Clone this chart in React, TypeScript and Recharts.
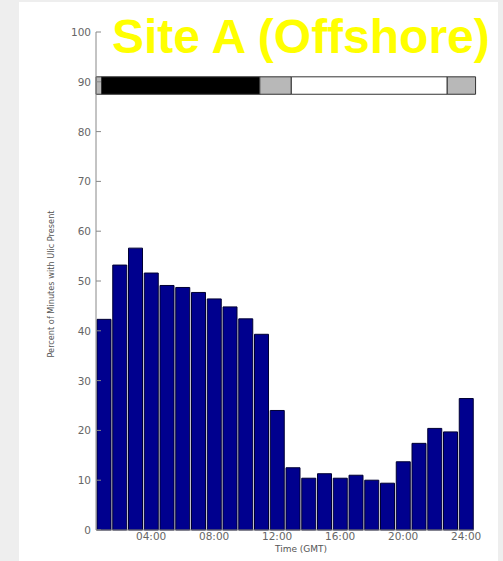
import React from 'react';
import { BarChart, Bar, XAxis, YAxis, ReferenceArea } from 'recharts';

// hour of day (GMT) each bar belongs to
const hours = [1, 2, 3, 4, 5, 6, 7, 8, 9, 10, 11, 12, 13, 14, 15, 16, 17, 18, 19, 20, 21, 22, 23, 24];
const percentPresent = [
  42.3, 53.2, 56.6, 51.6, 49.1, 48.7, 47.7, 46.4, 44.8, 42.4, 39.3, 24.0,
  12.5, 10.4, 11.3, 10.4, 11.0, 10.0, 9.4, 13.7, 17.4, 20.4, 19.7, 26.4,
];
const hourTicks = [4, 8, 12, 16, 20, 24];
const percentTicks = [0, 10, 20, 30, 40, 50, 60, 70, 80, 90, 100];

// light conditions strip along the top
const phaseStart = [0.5, 0.85, 10.9, 12.9, 22.8];
const phaseEnd = [0.85, 10.9, 12.9, 22.8, 24.6];
const phaseName = ['twilight', 'night', 'twilight', 'day', 'twilight'];

const phaseColor = (p: string) => {
  switch (p) {
    case 'night': return '#000000';
    case 'day': return '#ffffff';
    default: return '#b8b8b8';
  }
};

const data = hours.map((h, i) => ({ hour: h, pct: percentPresent[i] }));

const tickFont = { fontFamily: 'DejaVu Sans', fontSize: 10.5, fill: '#666' };

const YTick: React.FC<any> = ({ x, y, payload }) => (
  <g>
    <line x1={x + 5} x2={x + 10} y1={y} y2={y} stroke="#888" />
    <text x={x} y={y} dy={4} textAnchor="end" {...tickFont}>{payload.value}</text>
  </g>
);

const XTick: React.FC<any> = ({ x, y, payload }) => (
  <text x={x} y={y} dy={8} textAnchor="middle" {...tickFont}>{fmtHour(payload.value)}</text>
);

const fmtHour = (h: number) => `${String(h).padStart(2, '0')}:00`;

export default function App() {
  return (
    <div style={{ position: 'absolute', left: 0, top: 0, width: 503, height: 561, background: '#eeeeee', overflow: 'hidden' }}>
      <div style={{ position: 'absolute', left: 19, top: 2, width: 479, height: 559, background: '#fff' }} />
      <div style={{ position: 'absolute', left: 0, top: 0 }}>
        <BarChart width={503} height={561} data={data} margin={{ top: 32, right: 29, left: 36, bottom: 1 }}>
          <XAxis
            dataKey="hour"
            type="number"
            domain={[0.5, 24.5]}
            ticks={hourTicks}
            tickLine={false}
            tickSize={0}
            tickMargin={2}
            stroke="#888"
            tick={<XTick />}
            height={30}
            interval={0}
            allowDataOverflow
          />
          <YAxis
            domain={[0, 100]}
            ticks={percentTicks}
            tickLine={false}
            tickSize={0}
            tickMargin={5}
            stroke="#888"
            width={60}
            interval={0}
            tick={<YTick />}
          />
          {phaseName.map((p, i) => (
            <ReferenceArea
              key={i}
              x1={phaseStart[i]}
              x2={phaseEnd[i]}
              y1={87.5}
              y2={91}
              fill={phaseColor(p)}
              fillOpacity={1}
              stroke="#333"
              strokeWidth={1}
              ifOverflow="visible"
            />
          ))}
          <Bar dataKey="pct" fill="#00008e" stroke="#000033" strokeWidth={1} barSize={14} isAnimationActive={false} />
        </BarChart>
      </div>
      <div style={{ position: 'absolute', left: 301, top: 544, transform: 'translateX(-50%)', fontFamily: 'DejaVu Sans', fontSize: 9, color: '#555', whiteSpace: 'nowrap' }}>
        Time (GMT)
      </div>
      <div style={{ position: 'absolute', left: 51, top: 284, transform: 'translate(-50%, -50%) rotate(-90deg)', fontFamily: 'DejaVu Sans', fontSize: 8.2, color: '#555', whiteSpace: 'nowrap' }}>
        Percent of Minutes with Ulic Present
      </div>
      <div style={{ position: 'absolute', left: 112, top: 13, fontFamily: 'Liberation Sans', fontWeight: 'bold', fontSize: 48, lineHeight: '48px', color: '#ffff00', whiteSpace: 'nowrap' }}>
        Site A (Offshore)
      </div>
    </div>
  );
}
